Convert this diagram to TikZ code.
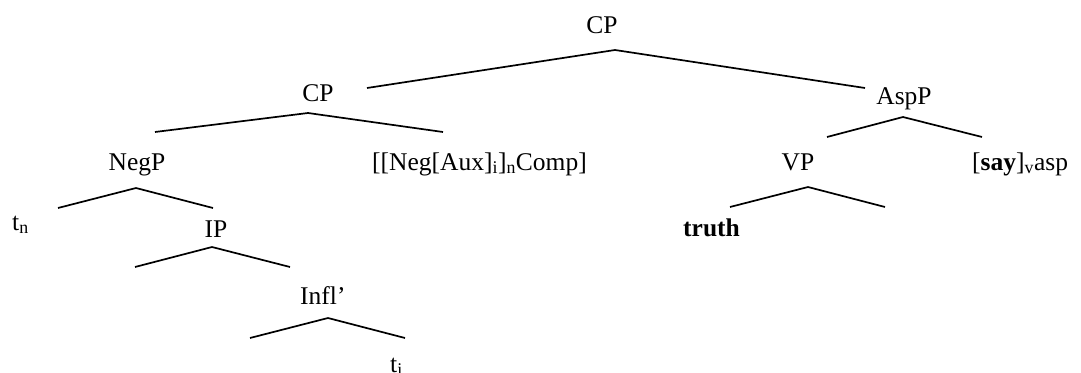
\documentclass[tikz,border=0pt]{standalone}
\usepackage{fontspec}
\setmainfont{Liberation Serif}
\usepackage{tikz}

\begin{document}
\begin{tikzpicture}[x=1pt,y=-1pt,
    every node/.style={inner sep=0pt,font=\fontsize{25.5}{30}\selectfont},
    branch/.style={line width=1.7pt}]
      \useasboundingbox (0,0) rectangle (1081,372);

      \node [anchor=base] (1) at (602,33) {CP};
      \node [anchor=base] (2) at (318,101) {CP};
      \node [anchor=base] (3) at (904,104) {AspP};
      \node [anchor=base] (4) at (137,170) {NegP};
      \node [anchor=base west] (5) at (372,170) {[[Neg[Aux]\textsubscript{i}]\textsubscript{n}Comp]};
      \node [anchor=base] (6) at (798,170) {VP};
      \node [anchor=base west] (7) at (972,170) {[\textbf{say}]\textsubscript{v}asp};
      \node [anchor=base west] (8) at (12,230) {t\textsubscript{n}};
      \node [anchor=base] (9) at (216,237) {IP};
      \node [anchor=base west] (10) at (683,236) {\textbf{truth}};
      \node [anchor=base west] (11) at (300,304) {Infl'};
      \node [anchor=base west] (12) at (390,372) {t\textsubscript{i}};

      \coordinate (a1) at (615,50);  \coordinate (l1) at (367,88);  \coordinate (r1) at (865,88);
      \coordinate (a2) at (308,113); \coordinate (l2) at (155,132); \coordinate (r2) at (443,132);
      \coordinate (a3) at (903,117); \coordinate (l3) at (827,137); \coordinate (r3) at (982,137);
      \coordinate (a4) at (136,188); \coordinate (l4) at (58,208);  \coordinate (r4) at (213,208);
      \coordinate (a6) at (808,187); \coordinate (l6) at (730,207); \coordinate (r6) at (885,207);
      \coordinate (a9) at (212,247); \coordinate (l9) at (135,267); \coordinate (r9) at (290,267);
      \coordinate (a11) at (328,318); \coordinate (l11) at (250,338); \coordinate (r11) at (405,338);

      \draw[branch] (l1) -- (a1) -- (r1);
      \draw[branch] (l2) -- (a2) -- (r2);
      \draw[branch] (l3) -- (a3) -- (r3);
      \draw[branch] (l4) -- (a4) -- (r4);
      \draw[branch] (l6) -- (a6) -- (r6);
      \draw[branch] (l9) -- (a9) -- (r9);
      \draw[branch] (l11) -- (a11) -- (r11);
    \end{tikzpicture}
\end{document}
